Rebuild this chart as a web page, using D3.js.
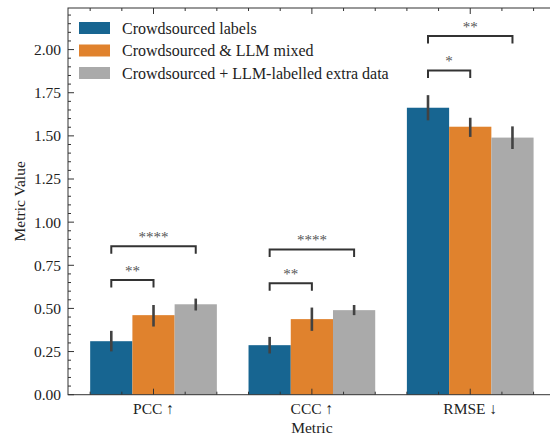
<!DOCTYPE html>
<html>
<head>
<meta charset="utf-8">
<script src="https://cdn.jsdelivr.net/npm/d3@7"></script>
<style>
  body { margin: 0; background: #fff; }
</style>
</head>
<body>
<div id="chart"></div>
<script>
const metrics = ["PCC \u2191", "CCC \u2191", "RMSE \u2193"];
const seriesNames = ["Crowdsourced labels", "Crowdsourced & LLM mixed", "Crowdsourced + LLM-labelled extra data"];
const seriesColors = ["#176591", "#e0822d", "#aaaaaa"];

const crowdValues = [0.310, 0.287, 1.663];
const mixedValues = [0.461, 0.438, 1.553];
const extraValues = [0.524, 0.490, 1.490];

const crowdErr = [[0.251, 0.370], [0.239, 0.335], [1.590, 1.736]];
const mixedErr = [[0.395, 0.520], [0.370, 0.505], [1.494, 1.605]];
const extraErr = [[0.488, 0.557], [0.461, 0.520], [1.424, 1.555]];

// significance brackets: metric index, bar a, bar b, height, stars
const bracketMetric = [0, 0, 1, 1, 2, 2];
const bracketFrom = [0, 0, 0, 0, 0, 0];
const bracketTo = [1, 2, 1, 2, 1, 2];
const bracketY = [0.665, 0.861, 0.646, 0.842, 1.879, 2.079];
const bracketStars = ["**", "****", "**", "****", "*", "**"];

const yTicks = [0, 0.25, 0.5, 0.75, 1.0, 1.25, 1.5, 1.75, 2.0];

const width = 550;
const height = 436;
const margin = { top: 8, right: 0, bottom: 41, left: 68 };

const values = [crowdValues, mixedValues, extraValues];
const errs = [crowdErr, mixedErr, extraErr];

const svg = d3.select("#chart").append("svg")
  .attr("width", width)
  .attr("height", height)
  .attr("font-family", "Liberation Serif, DejaVu Serif, serif");

const x = d3.scaleLinear().domain([-0.54, 2.51]).range([margin.left, 551]);
const y = d3.scaleLinear().domain([0, 2.241]).range([height - margin.bottom - 0.3, margin.top]);

const barW = 0.8 / 3;
const offset = (i) => (i - 1) * barW;

// bars
const bars = [];
values.forEach((vals, s) => vals.forEach((v, m) => bars.push({ s, m, v, e: errs[s][m] })));

svg.selectAll("rect.bar")
  .data(bars)
  .enter()
  .append("rect")
  .attr("class", "bar")
  .attr("x", (d) => x(d.m + offset(d.s) - barW / 2))
  .attr("width", (d) => x(barW) - x(0))
  .attr("y", (d) => y(d.v))
  .attr("height", (d) => y(0) - y(d.v))
  .attr("fill", (d) => seriesColors[d.s]);

svg.selectAll("line.err")
  .data(bars)
  .enter()
  .append("line")
  .attr("class", "err")
  .attr("x1", (d) => x(d.m + offset(d.s)))
  .attr("x2", (d) => x(d.m + offset(d.s)))
  .attr("y1", (d) => y(d.e[0]))
  .attr("y2", (d) => y(d.e[1]))
  .attr("stroke", "#424242")
  .attr("stroke-width", 2.6);

// brackets
const legH = 0.044;
bracketY.forEach((by, i) => {
  const m = bracketMetric[i];
  const x1 = x(m + offset(bracketFrom[i]));
  const x2 = x(m + offset(bracketTo[i]));
  svg.append("path")
    .attr("d", `M${x1},${y(by - legH)}L${x1},${y(by)}L${x2},${y(by)}L${x2},${y(by - legH)}`)
    .attr("fill", "none")
    .attr("stroke", "#333")
    .attr("stroke-width", 2);
  svg.append("text")
    .attr("x", (x1 + x2) / 2)
    .attr("y", y(by) - 4)
    .attr("text-anchor", "middle")
    .attr("font-size", 15)
    .attr("fill", "#555")
    .text(bracketStars[i]);
});

// axes (ticks inward on all sides)
const x0 = margin.left, x1 = 551, y0 = y(0), y1 = margin.top;
const minorY = d3.range(0, 2.241, 0.05).filter((v) => Math.abs(v / 0.25 - Math.round(v / 0.25)) > 1e-6);
const minorX = d3.range(-0.4, 2.5, 0.2).filter((v) => Math.abs(v - Math.round(v)) > 1e-6);

const axisG = svg.append("g").attr("stroke", "#333").attr("stroke-width", 1);
yTicks.forEach((t) => {
  axisG.append("line").attr("x1", x0).attr("x2", x0 + 6).attr("y1", y(t)).attr("y2", y(t));
});
minorY.forEach((t) => {
  axisG.append("line").attr("x1", x0).attr("x2", x0 + 3).attr("y1", y(t)).attr("y2", y(t));
});
[0, 1, 2].forEach((t) => {
  axisG.append("line").attr("x1", x(t)).attr("x2", x(t)).attr("y1", y0).attr("y2", y0 - 6);
  axisG.append("line").attr("x1", x(t)).attr("x2", x(t)).attr("y1", y1).attr("y2", y1 + 6);
});
minorX.forEach((t) => {
  axisG.append("line").attr("x1", x(t)).attr("x2", x(t)).attr("y1", y0).attr("y2", y0 - 3);
  axisG.append("line").attr("x1", x(t)).attr("x2", x(t)).attr("y1", y1).attr("y2", y1 + 3);
});
axisG.append("rect")
  .attr("x", x0).attr("y", y1)
  .attr("width", x1 - x0).attr("height", y0 - y1)
  .attr("fill", "none");

svg.selectAll("text.ytick")
  .data(yTicks)
  .enter()
  .append("text")
  .attr("class", "ytick")
  .attr("x", x0 - 7)
  .attr("y", (d) => y(d))
  .attr("dy", "0.35em")
  .attr("text-anchor", "end")
  .attr("font-size", 15.5)
  .attr("fill", "#222")
  .text((d) => d.toFixed(2));

svg.selectAll("text.xtick")
  .data(metrics)
  .enter()
  .append("text")
  .attr("class", "xtick")
  .attr("x", (d, i) => x(i))
  .attr("y", y0 + 19)
  .attr("text-anchor", "middle")
  .attr("font-size", 15.5)
  .attr("fill", "#222")
  .text((d) => d);

svg.append("text")
  .attr("x", x(1))
  .attr("y", y0 + 38)
  .attr("text-anchor", "middle")
  .attr("font-size", 15.5)
  .attr("fill", "#222")
  .text("Metric");

svg.append("text")
  .attr("transform", `translate(25, ${(y0 + y1) / 2}) rotate(-90)`)
  .attr("text-anchor", "middle")
  .attr("font-size", 15.5)
  .attr("fill", "#222")
  .text("Metric Value");

// legend
const legend = svg.append("g").attr("transform", "translate(79, 22)");
seriesNames.forEach((name, i) => {
  legend.append("rect")
    .attr("x", 0).attr("y", i * 22.5)
    .attr("width", 31).attr("height", 12)
    .attr("fill", seriesColors[i]);
  legend.append("text")
    .attr("x", 43).attr("y", i * 22.5 + 6)
    .attr("dy", "0.35em")
    .attr("font-size", 16)
    .attr("fill", "#222")
    .text(name);
});
</script>
</body>
</html>
